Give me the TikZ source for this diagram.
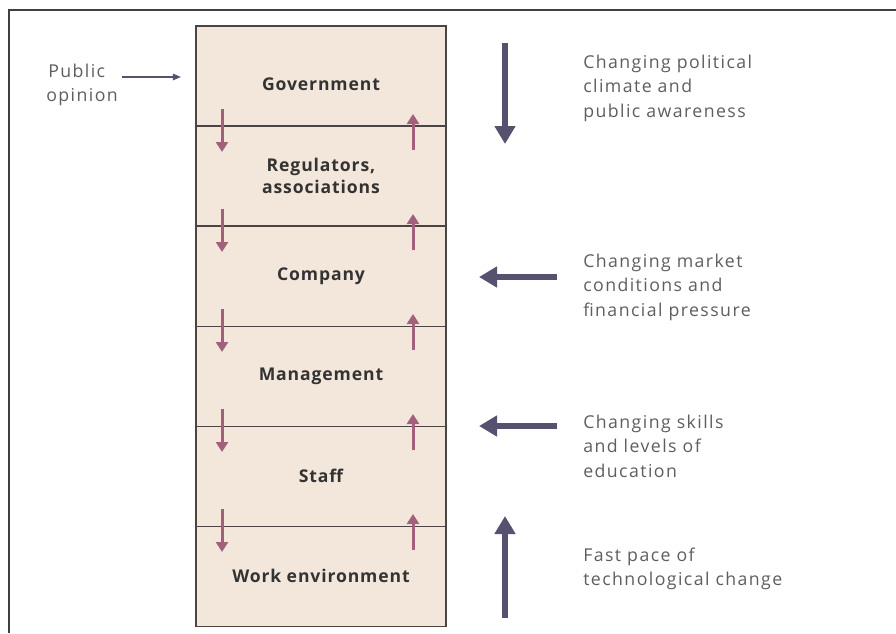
\documentclass[tikz,border=0pt]{standalone}
\usepackage{fontspec}
\setmainfont{Open Sans}
\usetikzlibrary{arrows.meta,positioning}
\definecolor{layerfill}{HTML}{F3E7DC}
\definecolor{layerline}{HTML}{4A4444}
\definecolor{pressure}{HTML}{56516F}
\definecolor{flowcol}{HTML}{A3607C}
\definecolor{notegray}{HTML}{5E5E5E}
\tikzset{
    layer/.style={rectangle,draw=layerline,fill=layerfill,line width=0.8pt,outer sep=0pt,
        minimum width=6.25cm,minimum height=2.5cm,inner sep=0pt,align=center,text=black!80,
        font=\fontsize{12.5}{15.6}\selectfont\bfseries\addfontfeatures{LetterSpace=5}},
    note/.style={align=left,anchor=west,inner sep=0pt,text=notegray,
        font=\fontsize{12.6}{17.4}\selectfont\addfontfeatures{LetterSpace=8}},
    force/.style={-{Triangle[width=0.5cm,length=0.45cm]},line width=0.15cm,draw=pressure},
    flowarrow/.style={-{Triangle[width=0.3cm,length=0.25cm]},line width=0.075cm,draw=flowcol},
    hint/.style={-{Triangle[width=0.16cm,length=0.2cm]},line width=0.9pt,draw=pressure},
    frame/.style={line width=0.05cm,draw=black!75}
}

\begin{document}
\begin{tikzpicture}[x=0.025cm,y=-0.025cm]

    \useasboundingbox (0,0) rectangle (896,633);
    \draw[frame] (896,10) -- (9,10) -- (9,633);

    % the stack of layers
    \node[layer] (government) at (321,76)        {\raisebox{-0.35cm}[0pt][0pt]{Government}};
    \node[layer] (regulators) [below=0pt of government] {Regulators,\\associations};
    \node[layer] (company)    [below=0pt of regulators] {Company};
    \node[layer] (management) [below=0pt of company]    {Management};
    \node[layer] (staff)      [below=0pt of management] {Staff};
    \node[layer] (workenv)    [below=0pt of staff]      {Work environment};

    % influence passed down and up across each boundary
    \foreach \y [count=\i] in {127,227,327,427,527} {
        \coordinate (dn tail \i) at (222,\y-18);
        \coordinate (dn tip \i)  at (222,\y+25);
        \coordinate (up tail \i) at (413,\y+23);
        \coordinate (up tip \i)  at (413,\y-13);
        \draw[flowarrow] (dn tail \i) -- (dn tip \i);
        \draw[flowarrow] (up tail \i) -- (up tip \i);
    }

    % public opinion
    \node[note] (public) at (46,85) {\hspace{0.05cm}Public\\opinion};
    \coordinate (opinion tail) at (122,77);
    \coordinate (opinion tip)  at (181,77);
    \draw[hint] (opinion tail) -- (opinion tip);

    % outside pressures
    \node[note] (political) at (583,88)  {Changing political\\climate and\\public awareness};
    \node[note] (market)    at (583,287) {Changing market\\conditions and\\financial pressure};
    \node[note] (skills)    at (583,446) {Changing skills\\and levels of\\education};
    \node[note] (techpace)  at (583,569) {Fast pace of\\technological change};

    \coordinate (political tail) at (505,43);
    \coordinate (political tip)  at (505,144);
    \coordinate (market tail)    at (557,277);
    \coordinate (market tip)     at (479,277);
    \coordinate (skills tail)    at (557,426);
    \coordinate (skills tip)     at (479,426);
    \coordinate (techpace tail)  at (505,618);
    \coordinate (techpace tip)   at (505,516);

    \draw[force] (political tail) -- (political tip);
    \draw[force] (market tail)    -- (market tip);
    \draw[force] (skills tail)    -- (skills tip);
    \draw[force] (techpace tail)  -- (techpace tip);

\end{tikzpicture}
\end{document}
